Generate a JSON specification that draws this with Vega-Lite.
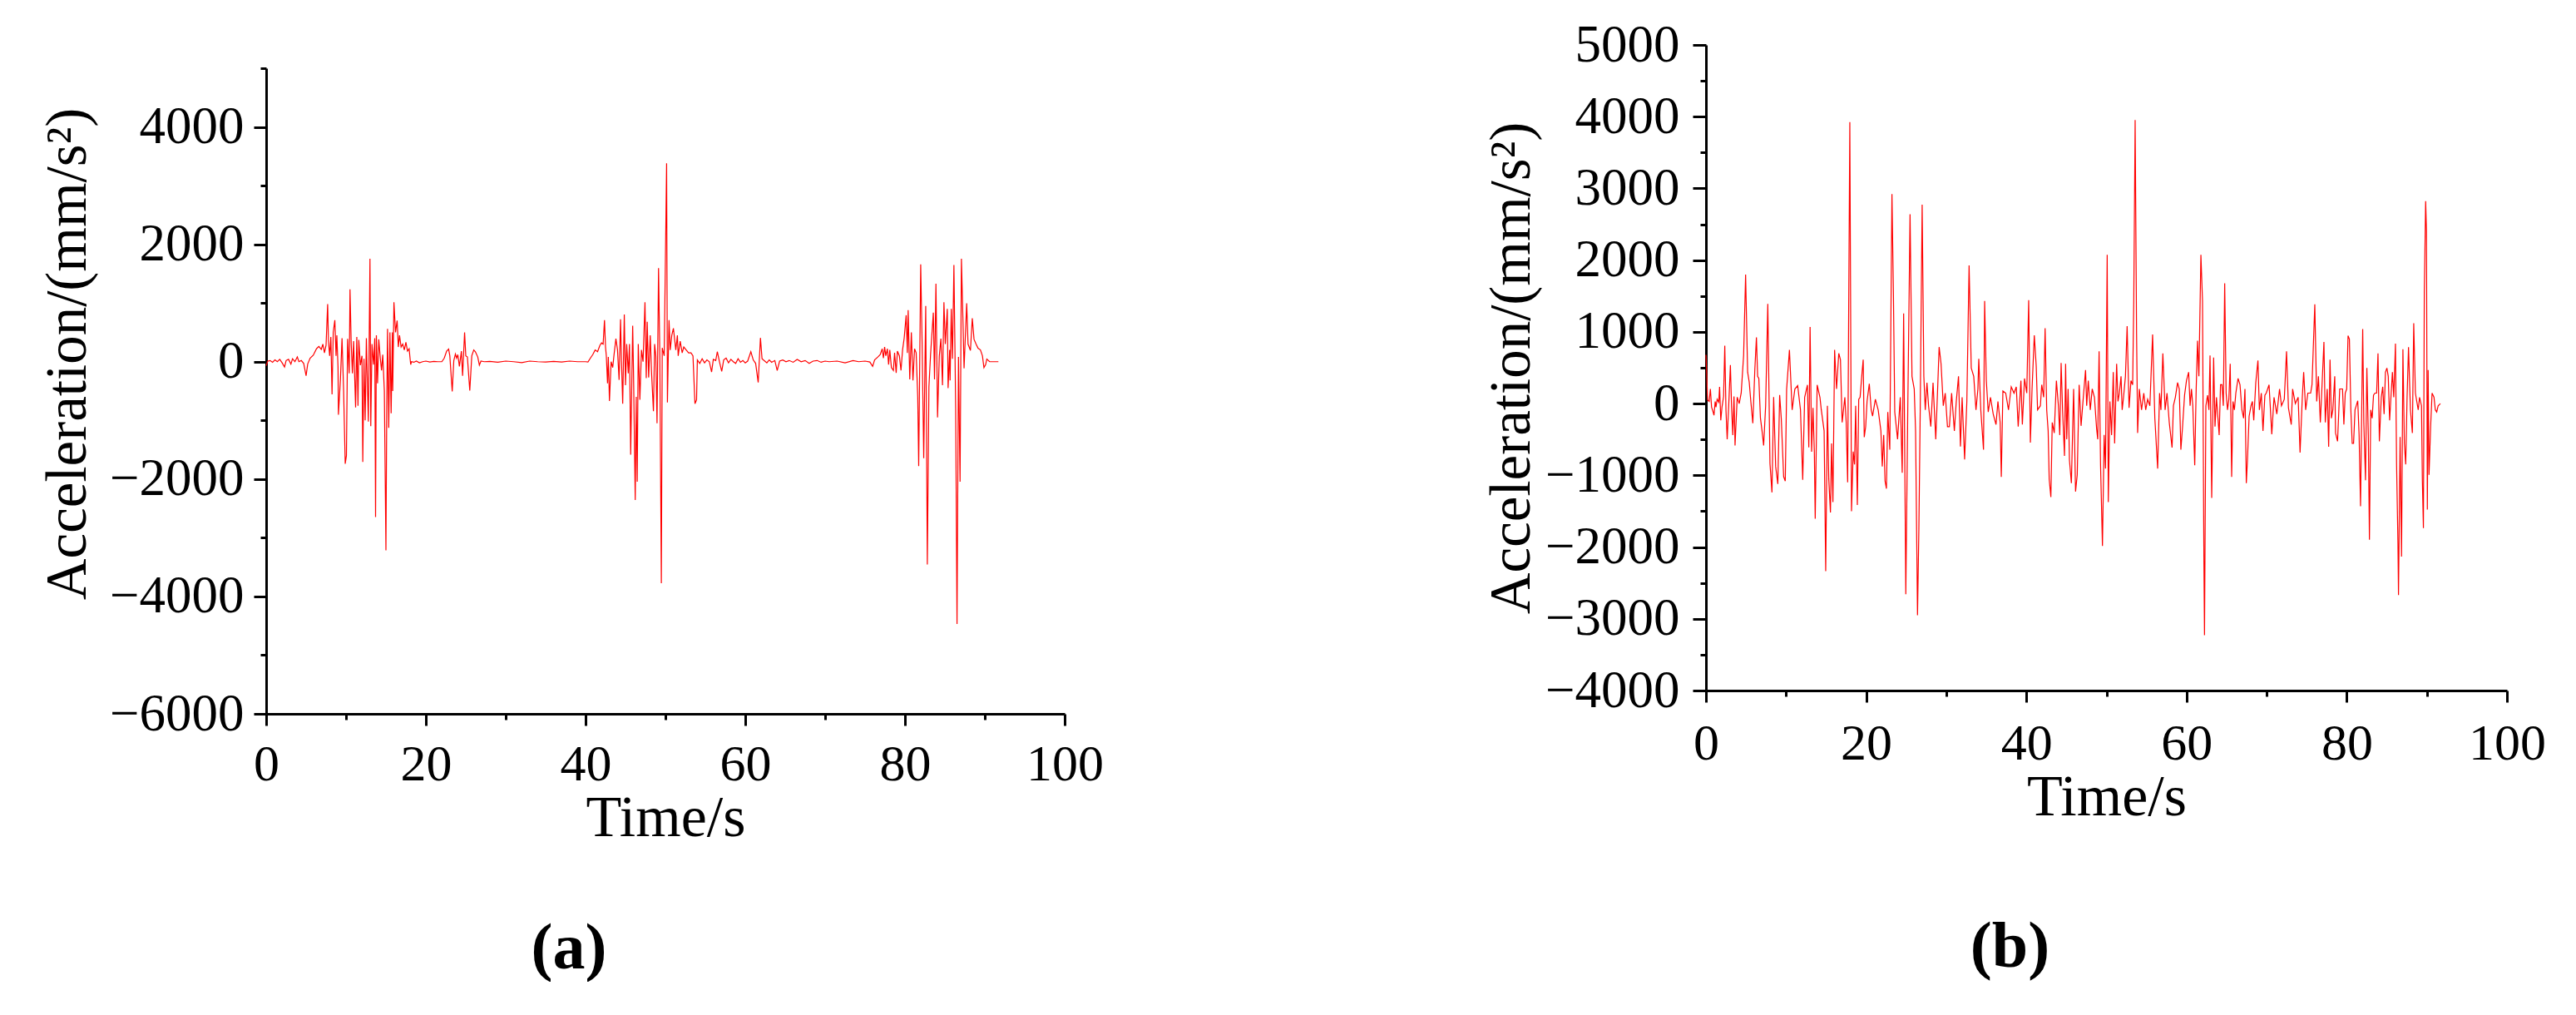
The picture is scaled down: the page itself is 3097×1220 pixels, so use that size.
{
"$schema": "https://vega.github.io/schema/vega-lite/v6.json",
"padding": {"left": 47, "top": 23, "right": 0, "bottom": 0},
"config": {
 "view": {"stroke": null},
 "font": "Liberation Serif",
 "axis": {"labelFont": "Liberation Serif", "titleFont": "Liberation Serif", "labelColor": "#000", "titleColor": "#000", "domainColor": "#000", "tickColor": "#000", "domainWidth": 3, "tickWidth": 3, "grid": false, "titleFontWeight": "normal", "labelFlush": false, "labelOverlap": false},
 "title": {"font": "Liberation Serif", "fontWeight": "bold", "fontSize": 78, "color": "#000"}
},
"spacing": 456,
"datasets": {
"a": [
{"t":0,"v":-70},{"t":0.2,"v":10},{"t":0.5,"v":20},{"t":0.8,"v":-10},{"t":1.1,"v":30},{"t":1.4,"v":0},{"t":1.7,"v":40},{"t":2.0,"v":-20},{"t":2.3,"v":-90},{"t":2.5,"v":20},{"t":2.8,"v":40},{"t":3.1,"v":-40},{"t":3.3,"v":50},{"t":3.6,"v":0},{"t":3.9,"v":80},{"t":4.1,"v":0},{"t":4.4,"v":20},{"t":4.7,"v":-30},{"t":5.0,"v":-240},{"t":5.2,"v":-40},{"t":5.5,"v":60},{"t":5.9,"v":110},{"t":6.3,"v":220},{"t":6.6,"v":260},{"t":6.9,"v":210},{"t":7.1,"v":300},{"t":7.3,"v":150},{"t":7.5,"v":280},{"t":7.7,"v":980},{"t":7.8,"v":350},{"t":7.95,"v":100},{"t":8.1,"v":420},{"t":8.25,"v":-557},{"t":8.4,"v":500},{"t":8.6,"v":709},{"t":8.75,"v":100},{"t":8.85,"v":450},{"t":9.0,"v":-100},{"t":9.05,"v":-905},{"t":9.3,"v":-300},{"t":9.5,"v":400},{"t":9.7,"v":-500},{"t":9.9,"v":-1740},{"t":10.05,"v":-1600},{"t":10.2,"v":390},{"t":10.4,"v":-200},{"t":10.5,"v":1234},{"t":10.65,"v":300},{"t":10.8,"v":-200},{"t":10.95,"v":350},{"t":11.2,"v":-779},{"t":11.35,"v":420},{"t":11.5,"v":-750},{"t":11.6,"v":370},{"t":11.8,"v":-60},{"t":12.0,"v":100},{"t":12.1,"v":-1709},{"t":12.25,"v":50},{"t":12.4,"v":-1000},{"t":12.55,"v":400},{"t":12.7,"v":-500},{"t":12.8,"v":-1020},{"t":13.0,"v":1753},{"t":13.1,"v":-1100},{"t":13.25,"v":300},{"t":13.45,"v":-50},{"t":13.6,"v":400},{"t":13.7,"v":-2646},{"t":13.8,"v":450},{"t":13.95,"v":-367},{"t":14.1,"v":380},{"t":14.3,"v":50},{"t":14.45,"v":-150},{"t":14.6,"v":120},{"t":14.8,"v":-500},{"t":15.0,"v":-3216},{"t":15.1,"v":-800},{"t":15.2,"v":560},{"t":15.35,"v":-1127},{"t":15.5,"v":500},{"t":15.65,"v":-880},{"t":15.8,"v":500},{"t":15.85,"v":-500},{"t":16.0,"v":1013},{"t":16.2,"v":500},{"t":16.4,"v":700},{"t":16.55,"v":250},{"t":16.7,"v":450},{"t":16.9,"v":250},{"t":17.1,"v":300},{"t":17.3,"v":200},{"t":17.5,"v":330},{"t":17.7,"v":180},{"t":17.9,"v":220},{"t":18.1,"v":-50},{"t":18.2,"v":0},{"t":18.5,"v":-10},{"t":18.8,"v":10},{"t":19.2,"v":-20},{"t":19.6,"v":0},{"t":20.0,"v":10},{"t":20.5,"v":-5},{"t":21.0,"v":5},{"t":21.5,"v":0},{"t":22.0,"v":0},{"t":22.3,"v":60},{"t":22.6,"v":180},{"t":22.85,"v":215},{"t":23.0,"v":100},{"t":23.3,"v":-506},{"t":23.5,"v":20},{"t":23.7,"v":130},{"t":23.85,"v":60},{"t":24.0,"v":120},{"t":24.2,"v":-80},{"t":24.45,"v":180},{"t":24.6,"v":-240},{"t":24.85,"v":500},{"t":25.0,"v":100},{"t":25.2,"v":80},{"t":25.5,"v":-494},{"t":25.75,"v":100},{"t":26.0,"v":200},{"t":26.2,"v":170},{"t":26.5,"v":80},{"t":26.7,"v":-60},{"t":26.9,"v":10},{"t":27.3,"v":0},{"t":28.0,"v":5},{"t":29.0,"v":-10},{"t":30.0,"v":10},{"t":31.0,"v":0},{"t":32.0,"v":-15},{"t":33.0,"v":10},{"t":34.0,"v":0},{"t":35.0,"v":-5},{"t":36.0,"v":5},{"t":37.0,"v":-5},{"t":38.0,"v":10},{"t":39.0,"v":0},{"t":40.0,"v":0},{"t":40.3,"v":-5},{"t":40.6,"v":60},{"t":40.9,"v":120},{"t":41.2,"v":200},{"t":41.5,"v":170},{"t":41.8,"v":280},{"t":42.0,"v":320},{"t":42.2,"v":300},{"t":42.37,"v":709},{"t":42.5,"v":250},{"t":42.6,"v":100},{"t":42.75,"v":-367},{"t":42.85,"v":80},{"t":42.99,"v":-671},{"t":43.2,"v":0},{"t":43.4,"v":-100},{"t":43.55,"v":100},{"t":43.8,"v":392},{"t":44.0,"v":200},{"t":44.2,"v":-310},{"t":44.38,"v":722},{"t":44.5,"v":0},{"t":44.65,"v":-715},{"t":44.85,"v":804},{"t":45.0,"v":-400},{"t":45.15,"v":300},{"t":45.35,"v":-200},{"t":45.5,"v":300},{"t":45.65,"v":-1583},{"t":45.9,"v":614},{"t":46.0,"v":-150},{"t":46.22,"v":-2357},{"t":46.35,"v":-600},{"t":46.47,"v":-2045},{"t":46.6,"v":300},{"t":46.8,"v":-650},{"t":47.0,"v":200},{"t":47.2,"v":0},{"t":47.44,"v":1013},{"t":47.6,"v":-280},{"t":47.72,"v":680},{"t":47.9,"v":-270},{"t":48.1,"v":450},{"t":48.25,"v":-150},{"t":48.5,"v":-842},{"t":48.65,"v":300},{"t":48.8,"v":100},{"t":48.95,"v":-1050},{"t":49.14,"v":1595},{"t":49.3,"v":100},{"t":49.49,"v":-3773},{"t":49.6,"v":234},{"t":49.85,"v":100},{"t":50.15,"v":3380},{"t":50.25,"v":-696},{"t":50.45,"v":709},{"t":50.6,"v":200},{"t":50.8,"v":450},{"t":51.0,"v":570},{"t":51.3,"v":200},{"t":51.5,"v":450},{"t":51.6,"v":100},{"t":51.85,"v":350},{"t":52.1,"v":150},{"t":52.3,"v":250},{"t":52.6,"v":200},{"t":52.9,"v":150},{"t":53.2,"v":150},{"t":53.45,"v":100},{"t":53.7,"v":-715},{"t":53.9,"v":-650},{"t":54.0,"v":30},{"t":54.3,"v":-30},{"t":54.6,"v":50},{"t":54.9,"v":-20},{"t":55.2,"v":30},{"t":55.5,"v":0},{"t":55.78,"v":-177},{"t":56.0,"v":40},{"t":56.3,"v":20},{"t":56.5,"v":170},{"t":56.8,"v":-20},{"t":57.05,"v":-165},{"t":57.3,"v":30},{"t":57.6,"v":60},{"t":57.9,"v":-20},{"t":58.2,"v":40},{"t":58.5,"v":0},{"t":58.8,"v":-30},{"t":59.1,"v":50},{"t":59.4,"v":-10},{"t":59.7,"v":20},{"t":60.0,"v":-20},{"t":60.3,"v":10},{"t":60.7,"v":170},{"t":61.0,"v":30},{"t":61.3,"v":-30},{"t":61.62,"v":-354},{"t":61.9,"v":405},{"t":62.1,"v":50},{"t":62.35,"v":20},{"t":62.7,"v":-20},{"t":63.0,"v":30},{"t":63.3,"v":-10},{"t":63.7,"v":20},{"t":64.0,"v":-150},{"t":64.3,"v":10},{"t":64.7,"v":30},{"t":65.1,"v":0},{"t":65.5,"v":20},{"t":66.0,"v":-10},{"t":66.5,"v":40},{"t":67.0,"v":0},{"t":67.5,"v":20},{"t":68.0,"v":-30},{"t":68.5,"v":10},{"t":69.0,"v":20},{"t":69.5,"v":-10},{"t":70.0,"v":10},{"t":70.5,"v":0},{"t":71.5,"v":10},{"t":72.5,"v":-20},{"t":73.5,"v":20},{"t":74.2,"v":0},{"t":75.0,"v":10},{"t":75.6,"v":-5},{"t":75.95,"v":-80},{"t":76.2,"v":30},{"t":76.6,"v":80},{"t":76.9,"v":120},{"t":77.15,"v":220},{"t":77.3,"v":60},{"t":77.45,"v":250},{"t":77.6,"v":100},{"t":77.8,"v":220},{"t":77.95,"v":-50},{"t":78.1,"v":200},{"t":78.3,"v":-100},{"t":78.55,"v":-150},{"t":78.7,"v":150},{"t":78.9,"v":-190},{"t":79.05,"v":180},{"t":79.3,"v":100},{"t":79.5,"v":-150},{"t":79.7,"v":200},{"t":79.9,"v":400},{"t":80.15,"v":791},{"t":80.3,"v":150},{"t":80.4,"v":880},{"t":80.6,"v":-300},{"t":80.8,"v":500},{"t":81.0,"v":-320},{"t":81.2,"v":220},{"t":81.4,"v":150},{"t":81.6,"v":-600},{"t":81.72,"v":-1780},{"t":81.97,"v":1658},{"t":82.15,"v":300},{"t":82.35,"v":-1646},{"t":82.6,"v":950},{"t":82.8,"v":-3456},{"t":83.0,"v":-430},{"t":83.2,"v":110},{"t":83.55,"v":835},{"t":83.7,"v":-300},{"t":83.88,"v":1329},{"t":84.08,"v":-950},{"t":84.3,"v":100},{"t":84.5,"v":392},{"t":84.7,"v":-400},{"t":84.88,"v":1013},{"t":85.05,"v":300},{"t":85.3,"v":899},{"t":85.4,"v":-450},{"t":85.6,"v":200},{"t":85.65,"v":-320},{"t":85.8,"v":900},{"t":85.95,"v":50},{"t":86.13,"v":1646},{"t":86.35,"v":-800},{"t":86.52,"v":-4469},{"t":86.7,"v":80},{"t":86.9,"v":-2045},{"t":87.07,"v":1753},{"t":87.25,"v":770},{"t":87.4,"v":-115},{"t":87.73,"v":994},{"t":87.9,"v":300},{"t":88.2,"v":190},{"t":88.43,"v":740},{"t":88.65,"v":380},{"t":88.9,"v":300},{"t":89.15,"v":230},{"t":89.45,"v":200},{"t":89.7,"v":100},{"t":89.89,"v":-100},{"t":90.1,"v":-50},{"t":90.25,"v":45},{"t":90.6,"v":0},{"t":91.0,"v":0},{"t":91.4,"v":0},{"t":91.7,"v":0}
],
"b": [
{"t":0,"v":680},{"t":0.1,"v":400},{"t":0.2,"v":50},{"t":0.4,"v":30},{"t":0.55,"v":204},{"t":0.7,"v":-50},{"t":0.85,"v":-100},{"t":1.0,"v":-163},{"t":1.15,"v":30},{"t":1.25,"v":-50},{"t":1.4,"v":60},{"t":1.6,"v":20},{"t":1.7,"v":234},{"t":1.85,"v":-234},{"t":2.0,"v":-50},{"t":2.2,"v":100},{"t":2.35,"v":806},{"t":2.5,"v":-100},{"t":2.65,"v":-496},{"t":2.85,"v":0},{"t":3.05,"v":537},{"t":3.2,"v":-50},{"t":3.35,"v":-438},{"t":3.5,"v":100},{"t":3.63,"v":-584},{"t":3.9,"v":90},{"t":4.15,"v":0},{"t":4.4,"v":150},{"t":4.7,"v":670},{"t":4.95,"v":1799},{"t":5.2,"v":440},{"t":5.4,"v":300},{"t":5.6,"v":30},{"t":5.85,"v":-274},{"t":6.1,"v":470},{"t":6.3,"v":923},{"t":6.45,"v":380},{"t":6.6,"v":350},{"t":6.8,"v":-200},{"t":7.0,"v":-380},{"t":7.2,"v":-584},{"t":7.45,"v":-30},{"t":7.72,"v":1390},{"t":7.85,"v":300},{"t":7.99,"v":-835},{"t":8.24,"v":-1238},{"t":8.45,"v":90},{"t":8.7,"v":-876},{"t":8.97,"v":-1121},{"t":9.2,"v":120},{"t":9.4,"v":-204},{"t":9.7,"v":-1020},{"t":9.9,"v":-1080},{"t":10.07,"v":200},{"t":10.42,"v":748},{"t":10.76,"v":-88},{"t":11.1,"v":204},{"t":11.45,"v":250},{"t":11.8,"v":-88},{"t":12.08,"v":-1063},{"t":12.32,"v":88},{"t":12.67,"v":260},{"t":12.84,"v":-610},{"t":13.0,"v":1069},{"t":13.19,"v":-670},{"t":13.36,"v":-60},{"t":13.53,"v":-670},{"t":13.64,"v":-1606},{"t":13.88,"v":260},{"t":14.23,"v":88},{"t":14.4,"v":-88},{"t":14.75,"v":-380},{"t":14.95,"v":-2336},{"t":15.16,"v":-30},{"t":15.33,"v":-1050},{"t":15.54,"v":-1518},{"t":15.68,"v":-555},{"t":15.85,"v":-1372},{"t":16.06,"v":748},{"t":16.3,"v":204},{"t":16.58,"v":700},{"t":16.79,"v":613},{"t":17.0,"v":-263},{"t":17.17,"v":-88},{"t":17.34,"v":88},{"t":17.51,"v":-263},{"t":17.69,"v":-1098},{"t":17.96,"v":3925},{"t":18.17,"v":-1501},{"t":18.38,"v":-670},{"t":18.55,"v":-847},{"t":18.69,"v":-30},{"t":18.9,"v":-1413},{"t":19.07,"v":60},{"t":19.24,"v":88},{"t":19.49,"v":438},{"t":19.63,"v":613},{"t":19.76,"v":-467},{"t":19.94,"v":-321},{"t":20.11,"v":30},{"t":20.39,"v":276},{"t":20.63,"v":-88},{"t":20.8,"v":-175},{"t":21.15,"v":60},{"t":21.5,"v":-88},{"t":21.84,"v":-380},{"t":22.01,"v":-876},{"t":22.19,"v":-438},{"t":22.36,"v":-1080},{"t":22.53,"v":-1185},{"t":22.7,"v":-117},{"t":22.95,"v":-642},{"t":23.22,"v":2920},{"t":23.4,"v":1550},{"t":23.57,"v":-117},{"t":23.92,"v":-496},{"t":24.26,"v":88},{"t":24.5,"v":-964},{"t":24.68,"v":1256},{"t":24.95,"v":-2657},{"t":25.2,"v":-30},{"t":25.48,"v":2640},{"t":25.72,"v":380},{"t":26.0,"v":204},{"t":26.17,"v":-380},{"t":26.41,"v":-2949},{"t":26.58,"v":-1752},{"t":26.75,"v":-88},{"t":26.99,"v":2774},{"t":27.2,"v":380},{"t":27.38,"v":-88},{"t":27.59,"v":290},{"t":27.79,"v":-30},{"t":28.07,"v":-321},{"t":28.35,"v":290},{"t":28.69,"v":-496},{"t":28.94,"v":260},{"t":29.11,"v":788},{"t":29.35,"v":555},{"t":29.63,"v":-30},{"t":29.87,"v":146},{"t":30.15,"v":-321},{"t":30.39,"v":-321},{"t":30.67,"v":146},{"t":31.01,"v":-380},{"t":31.25,"v":30},{"t":31.53,"v":380},{"t":31.77,"v":-600},{"t":31.98,"v":88},{"t":32.29,"v":-777},{"t":32.57,"v":30},{"t":32.85,"v":1927},{"t":33.12,"v":496},{"t":33.43,"v":380},{"t":33.71,"v":-88},{"t":33.95,"v":204},
{"t":34.06,"v":625},{"t":34.31,"v":-88},{"t":34.65,"v":-642},{"t":34.79,"v":1431},{"t":35.0,"v":321},{"t":35.24,"v":-117},{"t":35.52,"v":88},{"t":35.86,"v":-146},{"t":36.21,"v":-292},{"t":36.45,"v":30},{"t":36.73,"v":-263},{"t":36.87,"v":-1022},{"t":37.07,"v":175},{"t":37.42,"v":146},{"t":37.77,"v":-88},{"t":38.11,"v":234},{"t":38.46,"v":146},{"t":38.74,"v":234},{"t":38.98,"v":-321},{"t":39.32,"v":321},{"t":39.5,"v":-292},{"t":39.77,"v":350},{"t":40.05,"v":146},{"t":40.29,"v":1443},{"t":40.5,"v":-543},{"t":40.71,"v":204},{"t":40.99,"v":952},{"t":41.23,"v":526},{"t":41.4,"v":-88},{"t":41.75,"v":-30},{"t":41.92,"v":263},{"t":42.16,"v":88},{"t":42.34,"v":1051},{"t":42.54,"v":-88},{"t":42.72,"v":-380},{"t":42.85,"v":-1051},{"t":43.06,"v":-1302},{"t":43.23,"v":-263},{"t":43.48,"v":-409},{"t":43.75,"v":321},{"t":44.0,"v":-30},{"t":44.17,"v":-438},{"t":44.34,"v":566},{"t":44.52,"v":-88},{"t":44.76,"v":-730},{"t":44.9,"v":555},{"t":45.04,"v":-496},{"t":45.21,"v":204},{"t":45.38,"v":-788},{"t":45.62,"v":-1110},{"t":45.9,"v":204},{"t":46.14,"v":-1226},{"t":46.35,"v":-993},{"t":46.59,"v":263},{"t":46.83,"v":-310},{"t":47.11,"v":88},{"t":47.39,"v":467},{"t":47.53,"v":-30},{"t":47.73,"v":321},{"t":47.98,"v":-88},{"t":48.22,"v":204},{"t":48.5,"v":88},{"t":48.77,"v":-350},{"t":48.91,"v":-496},{"t":49.08,"v":730},{"t":49.26,"v":-847},{"t":49.5,"v":-1986},{"t":49.71,"v":-438},{"t":49.88,"v":-905},{"t":50.09,"v":2073},{"t":50.23,"v":-1372},{"t":50.43,"v":30},{"t":50.64,"v":-438},{"t":50.85,"v":438},{"t":51.02,"v":-555},{"t":51.27,"v":555},{"t":51.44,"v":30},{"t":51.61,"v":146},{"t":51.82,"v":380},{"t":51.96,"v":-88},{"t":52.13,"v":88},{"t":52.37,"v":380},{"t":52.58,"v":1080},{"t":52.82,"v":-60},{"t":53.06,"v":321},{"t":53.27,"v":263},{"t":53.41,"v":1431},{"t":53.58,"v":3954},{"t":53.76,"v":964},{"t":53.89,"v":-409},{"t":54.1,"v":204},{"t":54.38,"v":-88},{"t":54.66,"v":146},{"t":54.9,"v":-88},{"t":55.14,"v":60},{"t":55.42,"v":-30},{"t":55.76,"v":964},{"t":56.04,"v":-204},{"t":56.39,"v":-905},{"t":56.63,"v":146},{"t":56.8,"v":-88},{"t":57.04,"v":700},{"t":57.32,"v":-88},{"t":57.56,"v":146},{"t":57.84,"v":-263},{"t":58.19,"v":-613},{"t":58.36,"v":-30},{"t":58.6,"v":88},{"t":58.88,"v":292},{"t":59.09,"v":204},{"t":59.29,"v":-642},{"t":59.5,"v":-321},{"t":59.75,"v":117},{"t":59.99,"v":321},{"t":60.26,"v":438},{"t":60.44,"v":-30},{"t":60.61,"v":204},{"t":60.78,"v":-30},{"t":61.02,"v":-859},{"t":61.2,"v":204},{"t":61.37,"v":876},{"t":61.54,"v":380},{"t":61.79,"v":2073},{"t":61.99,"v":1431},{"t":62.17,"v":-2250},{"t":62.24,"v":-3230},{"t":62.41,"v":-30},{"t":62.62,"v":117},{"t":62.79,"v":-88},{"t":62.93,"v":672},{"t":63.14,"v":-1314},{"t":63.38,"v":642},{"t":63.55,"v":-321},{"t":63.73,"v":88},{"t":64.07,"v":-438},{"t":64.24,"v":263},{"t":64.42,"v":263},{"t":64.59,"v":-30},{"t":64.76,"v":1676},{"t":64.94,"v":146},{"t":65.11,"v":-88},{"t":65.28,"v":60},{"t":65.45,"v":555},{"t":65.63,"v":-1022},{"t":65.8,"v":30},{"t":65.97,"v":-88},{"t":66.15,"v":146},{"t":66.43,"v":350},{"t":66.67,"v":263},{"t":66.91,"v":-88},{"t":67.12,"v":-204},{"t":67.29,"v":204},{"t":67.46,"v":-1110},{"t":67.6,"v":-790},{"t":67.81,"v":-175},{"t":68.05,"v":-30},{"t":68.22,"v":30},
{"t":68.39,"v":-234},{"t":68.64,"v":292},{"t":68.91,"v":602},{"t":69.09,"v":-88},{"t":69.33,"v":146},{"t":69.54,"v":-380},{"t":69.78,"v":117},{"t":69.95,"v":146},{"t":70.3,"v":263},{"t":70.64,"v":-426},{"t":70.92,"v":88},{"t":71.27,"v":-146},{"t":71.61,"v":204},{"t":71.85,"v":-30},{"t":72.2,"v":60},{"t":72.48,"v":730},{"t":72.72,"v":-60},{"t":73.07,"v":-292},{"t":73.24,"v":204},{"t":73.58,"v":0},{"t":73.93,"v":88},{"t":74.17,"v":-683},{"t":74.45,"v":88},{"t":74.62,"v":438},{"t":74.87,"v":-88},{"t":75.14,"v":146},{"t":75.49,"v":146},{"t":75.66,"v":263},{"t":76.01,"v":1384},{"t":76.25,"v":30},{"t":76.46,"v":380},{"t":76.7,"v":-263},{"t":76.87,"v":146},{"t":77.15,"v":859},{"t":77.32,"v":-263},{"t":77.56,"v":204},{"t":77.74,"v":-601},{"t":77.91,"v":613},{"t":78.08,"v":-204},{"t":78.26,"v":-88},{"t":78.5,"v":380},{"t":78.6,"v":-409},{"t":78.85,"v":-526},{"t":79.12,"v":204},{"t":79.47,"v":204},{"t":79.64,"v":-292},{"t":79.81,"v":146},{"t":79.99,"v":204},{"t":80.16,"v":946},{"t":80.33,"v":900},{"t":80.51,"v":-88},{"t":80.68,"v":-555},{"t":80.85,"v":-555},{"t":81.03,"v":-88},{"t":81.37,"v":40},{"t":81.54,"v":-438},{"t":81.72,"v":-1431},{"t":81.99,"v":1039},{"t":82.13,"v":-263},{"t":82.34,"v":-1069},{"t":82.51,"v":496},{"t":82.69,"v":-438},{"t":82.83,"v":-1898},{"t":82.99,"v":-88},{"t":83.17,"v":-204},{"t":83.34,"v":117},{"t":83.52,"v":146},{"t":83.73,"v":146},{"t":83.9,"v":700},{"t":84.07,"v":-526},{"t":84.31,"v":88},{"t":84.49,"v":234},{"t":84.66,"v":-146},{"t":84.83,"v":438},{"t":85.01,"v":496},{"t":85.18,"v":380},{"t":85.35,"v":-234},{"t":85.53,"v":117},{"t":85.7,"v":438},{"t":85.87,"v":88},{"t":86.08,"v":835},{"t":86.22,"v":-847},{"t":86.39,"v":-1950},{"t":86.46,"v":-2669},{"t":86.66,"v":-467},{"t":86.84,"v":-2132},{"t":87.01,"v":759},{"t":87.19,"v":-555},{"t":87.36,"v":-847},{"t":87.53,"v":88},{"t":87.71,"v":788},{"t":87.95,"v":-88},{"t":88.19,"v":-409},{"t":88.36,"v":1121},{"t":88.57,"v":146},{"t":88.74,"v":30},{"t":88.92,"v":-88},{"t":89.09,"v":88},{"t":89.33,"v":-30},{"t":89.44,"v":-1080},{"t":89.57,"v":-1735},{"t":89.68,"v":1550},{"t":89.85,"v":2821},{"t":89.95,"v":2400},{"t":90.06,"v":-1478},{"t":90.16,"v":467},{"t":90.27,"v":-993},{"t":90.47,"v":-321},{"t":90.65,"v":146},{"t":90.89,"v":88},{"t":91.06,"v":-88},{"t":91.23,"v":-117},{"t":91.41,"v":-30},{"t":91.69,"v":0}
]
},
"hconcat": [
 {
  "width": 960, "height": 804,
  "data": {"name": "a"},
  "title": {"text": "(a)", "orient": "bottom", "anchor": "middle", "offset": 84, "dx": -116},
  "resolve": {"axis": {"x": "independent", "y": "independent"}},
  "layer": [
   {
    "mark": {"type": "line", "color": "#ff0000", "strokeWidth": 1.2},
    "encoding": {
     "x": {"field": "t", "type": "quantitative", "scale": {"domain": [0, 100], "nice": false},
       "axis": {"orient": "bottom", "values": [0, 20, 40, 60, 80, 100], "format": "d", "title": "Time/s", "titleFontSize": 70, "labelFontSize": 62, "tickSize": 14, "labelPadding": 16, "titlePadding": 0}},
     "y": {"field": "v", "type": "quantitative", "scale": {"domain": [-6000, 5000], "range": [804, 28], "nice": false, "zero": false},
       "axis": {"orient": "left", "values": [-6000, -4000, -2000, 0, 2000, 4000], "format": "d", "title": "Acceleration/(mm/s²)", "titleFontSize": 69, "labelFontSize": 63, "tickSize": 15, "labelPadding": 12, "titlePadding": 15, "titleY": 371}}
    }
   },
   {
    "mark": {"type": "line", "opacity": 0},
    "encoding": {
     "x": {"field": "t", "type": "quantitative",
       "axis": {"orient": "bottom", "values": [10, 30, 50, 70, 90], "labels": false, "domain": false, "title": null, "tickSize": 7}},
     "y": {"field": "v", "type": "quantitative",
       "axis": {"orient": "left", "values": [-5000, -3000, -1000, 1000, 3000, 5000], "labels": false, "domain": false, "title": null, "tickSize": 7}}
    }
   }
  ]
 },
 {
  "width": 963, "height": 776,
  "data": {"name": "b"},
  "title": {"text": "(b)", "orient": "bottom", "anchor": "middle", "offset": 107, "dx": -116},
  "resolve": {"axis": {"x": "independent", "y": "independent"}},
  "layer": [
   {
    "mark": {"type": "line", "color": "#ff0000", "strokeWidth": 1.2},
    "encoding": {
     "x": {"field": "t", "type": "quantitative", "scale": {"domain": [0, 100], "nice": false},
       "axis": {"orient": "bottom", "values": [0, 20, 40, 60, 80, 100], "format": "d", "title": "Time/s", "titleFontSize": 70, "labelFontSize": 62, "tickSize": 14, "labelPadding": 19, "titlePadding": 0}},
     "y": {"field": "v", "type": "quantitative", "scale": {"domain": [-4000, 5000], "nice": false, "zero": false},
       "axis": {"orient": "left", "values": [-4000, -3000, -2000, -1000, 0, 1000, 2000, 3000, 4000, 5000], "format": "d", "title": "Acceleration/(mm/s²)", "titleFontSize": 69, "labelFontSize": 63, "tickSize": 16, "labelPadding": 16, "titlePadding": 5}}
    }
   },
   {
    "mark": {"type": "line", "opacity": 0},
    "encoding": {
     "x": {"field": "t", "type": "quantitative",
       "axis": {"orient": "bottom", "values": [10, 30, 50, 70, 90], "labels": false, "domain": false, "title": null, "tickSize": 7}},
     "y": {"field": "v", "type": "quantitative",
       "axis": {"orient": "left", "values": [-3500, -2500, -1500, -500, 500, 1500, 2500, 3500, 4500], "labels": false, "domain": false, "title": null, "tickSize": 7}}
    }
   }
  ]
 }
]
}
